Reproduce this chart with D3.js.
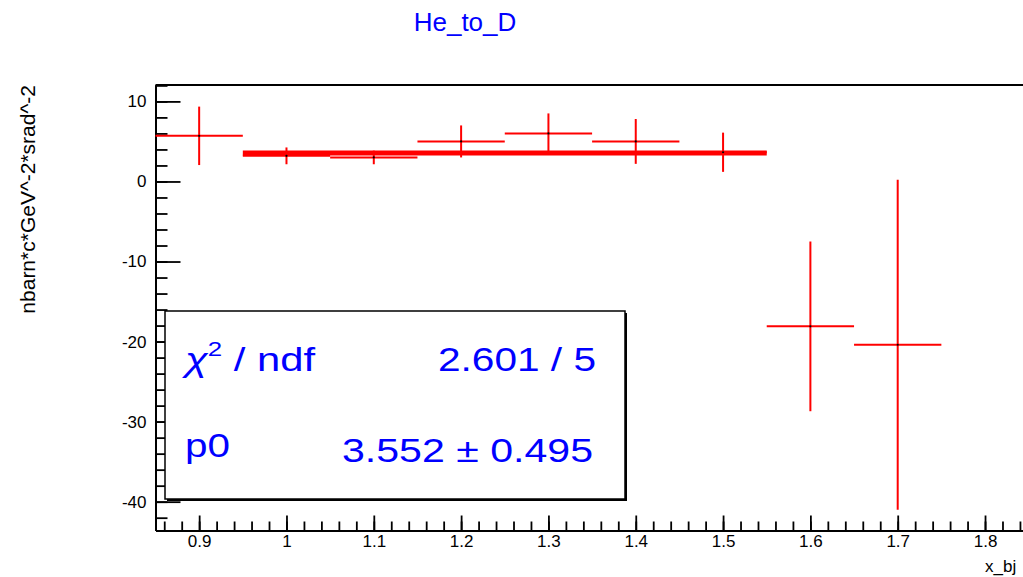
<!DOCTYPE html>
<html>
<head>
<meta charset="utf-8">
<script src="https://cdn.jsdelivr.net/npm/d3@7"></script>
<style>
  html, body { margin: 0; padding: 0; background: #fff; overflow: hidden; }
  text { font-family: "Liberation Sans", Arial, Helvetica, sans-serif; }
</style>
</head>
<body>
<svg id="chart" width="1023" height="577"></svg>
<script>
// Histogram bins (He_to_D ratio vs x_bj)
const binCenters = [0.9, 1.0, 1.1, 1.2, 1.3, 1.4, 1.5, 1.6, 1.7];
const binValues  = [5.7, 3.2, 3.0, 5.0, 6.0, 5.0, 3.65, -18.1, -20.4];
const binErrors  = [3.65, 1.05, 0.85, 2.0, 2.5, 2.8, 2.45, 10.6, 20.6];
const binWidth = 0.1;

// Constant (pol0) fit result
const fitRange = [0.95, 1.55];
const fitP0 = 3.552;
const fitP0Err = 0.495;
const fitChi2 = 2.601;
const fitNdf = 5;

// Axis limits and ticks
const xLimits = [0.85, 1.95];
const yLimits = [-43.6, 12.05];
const xMajorTicks = [0.9, 1.0, 1.1, 1.2, 1.3, 1.4, 1.5, 1.6, 1.7, 1.8];
const xTickLabels = ["0.9", "1", "1.1", "1.2", "1.3", "1.4", "1.5", "1.6", "1.7", "1.8"];
const yMajorTicks = [-40, -30, -20, -10, 0, 10];
const yTickLabels = ["-40", "-30", "-20", "-10", "0", "10"];

const titleText = "He_to_D";
const xTitle = "x_bj";
const yTitle = "nbarn*c*GeV^-2*srad^-2";

const svg = d3.select("#chart");
svg.append("rect").attr("width", 1023).attr("height", 577).attr("fill", "#fff");

const frame = { left: 155.5, top: 85, right: 1116, bottom: 530.5 };

const x = d3.scaleLinear().domain(xLimits).range([frame.left, frame.right]);
const y = d3.scaleLinear().domain(yLimits).range([frame.bottom, frame.top]);

// minor tick positions every 0.02 in x and 2 in y
const xMinor = d3.range(43, 98).map(i => i * 0.02).filter(v => v >= xLimits[0] && v <= xLimits[1]);
const yMinor = d3.range(-21, 7).map(i => i * 2).filter(v => v >= yLimits[0] && v <= yLimits[1]);

const red = "#ff0000";
const blue = "#0000ff";

// ---- frame top edge
svg.append("line")
  .attr("x1", frame.left).attr("x2", frame.right)
  .attr("y1", frame.top).attr("y2", frame.top)
  .attr("stroke", "#000").attr("stroke-width", 2);

// ---- y axis (ticks pointing into the frame)
const yAxisMinor = svg.append("g").attr("transform", `translate(${frame.left},0)`)
  .call(d3.axisLeft(y).tickValues(yMinor).tickSizeInner(-12).tickSizeOuter(0).tickFormat(""));
const yAxis = svg.append("g").attr("transform", `translate(${frame.left},0)`)
  .call(d3.axisLeft(y).tickValues(yMajorTicks).tickSizeInner(-25).tickSizeOuter(0).tickPadding(9)
        .tickFormat((d, i) => yTickLabels[i]));

// ---- x axis (ticks pointing up into the frame)
const xAxisMinor = svg.append("g").attr("transform", `translate(0,${frame.bottom})`)
  .call(d3.axisBottom(x).tickValues(xMinor).tickSizeInner(-9).tickSizeOuter(0).tickFormat(""));
const xAxis = svg.append("g").attr("transform", `translate(0,${frame.bottom})`)
  .call(d3.axisBottom(x).tickValues(xMajorTicks).tickSizeInner(-15).tickSizeOuter(0).tickPadding(4)
        .tickFormat((d, i) => xTickLabels[i]));

[yAxisMinor, yAxis, xAxisMinor, xAxis].forEach(g => {
  g.selectAll("path.domain").attr("stroke", "#000").attr("stroke-width", 2);
  g.selectAll(".tick line").attr("stroke", "#000").attr("stroke-width", 1.8);
});
yAxis.selectAll(".tick text").attr("font-size", 17).attr("fill", "#000")
  .attr("font-family", "Liberation Sans, Arial, sans-serif");
xAxis.selectAll(".tick text").attr("font-size", 17).attr("fill", "#000")
  .attr("font-family", "Liberation Sans, Arial, sans-serif");

// ---- histogram error bars
const bins = binCenters.map((c, i) => ({ c, v: binValues[i], e: binErrors[i] }));
const gBins = svg.append("g");
gBins.selectAll("line.h").data(bins).join("line").attr("class", "h")
  .attr("x1", d => x(d.c - binWidth / 2)).attr("x2", d => x(d.c + binWidth / 2))
  .attr("y1", d => y(d.v)).attr("y2", d => y(d.v))
  .attr("stroke", red).attr("stroke-width", 2);
gBins.selectAll("line.v").data(bins).join("line").attr("class", "v")
  .attr("x1", d => x(d.c)).attr("x2", d => x(d.c))
  .attr("y1", d => y(d.v - d.e)).attr("y2", d => y(d.v + d.e))
  .attr("stroke", red).attr("stroke-width", 2);

// ---- constant fit
svg.append("line")
  .attr("x1", x(fitRange[0])).attr("x2", x(fitRange[1]))
  .attr("y1", y(fitP0)).attr("y2", y(fitP0))
  .attr("stroke", red).attr("stroke-width", 5);

// bin centre markers
svg.append("g").selectAll("circle").data(bins).join("circle")
  .attr("cx", d => x(d.c)).attr("cy", d => y(d.v)).attr("r", 1.1).attr("fill", "#000");

// ---- statistics box
const box = { x: 165, y: 311, w: 460, h: 188 };
svg.append("rect").attr("x", box.x + 2).attr("y", box.y + 2).attr("width", box.w).attr("height", box.h)
  .attr("fill", "#000");
svg.append("rect").attr("x", box.x).attr("y", box.y).attr("width", box.w).attr("height", box.h)
  .attr("fill", "#fff").attr("stroke", "#000").attr("stroke-width", 1.5);

const statFont = 34;
const chiLabel = svg.append("text").attr("x", 185).attr("y", 371)
  .attr("font-size", statFont).attr("fill", blue).attr("textLength", 130).attr("lengthAdjust", "spacingAndGlyphs");
chiLabel.append("tspan").attr("font-style", "italic").text("χ");
chiLabel.append("tspan").attr("font-size", statFont * 0.62).attr("dy", -15).text("2");
chiLabel.append("tspan").attr("dy", 15).text(" / ndf");

svg.append("text").attr("x", 438).attr("y", 371)
  .attr("font-size", statFont).attr("fill", blue)
  .attr("textLength", 158).attr("lengthAdjust", "spacingAndGlyphs")
  .text(`${fitChi2.toFixed(3)} / ${fitNdf}`);

svg.append("text").attr("x", 185).attr("y", 457)
  .attr("font-size", statFont).attr("fill", blue)
  .attr("textLength", 45).attr("lengthAdjust", "spacingAndGlyphs")
  .text("p0");

svg.append("text").attr("x", 342).attr("y", 462)
  .attr("font-size", statFont).attr("fill", blue)
  .attr("textLength", 251).attr("lengthAdjust", "spacingAndGlyphs")
  .text(`${fitP0.toFixed(3)} ± ${fitP0Err.toFixed(3)}`);

// ---- titles
svg.append("text").attr("x", 465).attr("y", 31).attr("text-anchor", "middle")
  .attr("font-size", 26).attr("fill", blue).text(titleText);

svg.append("text").attr("x", 985).attr("y", 572)
  .attr("font-size", 17).attr("fill", "#000").text(xTitle);

svg.append("text").attr("transform", "translate(35,85) rotate(-90)")
  .attr("text-anchor", "end").attr("font-size", 21).attr("fill", "#000").text(yTitle);
</script>
</body>
</html>
